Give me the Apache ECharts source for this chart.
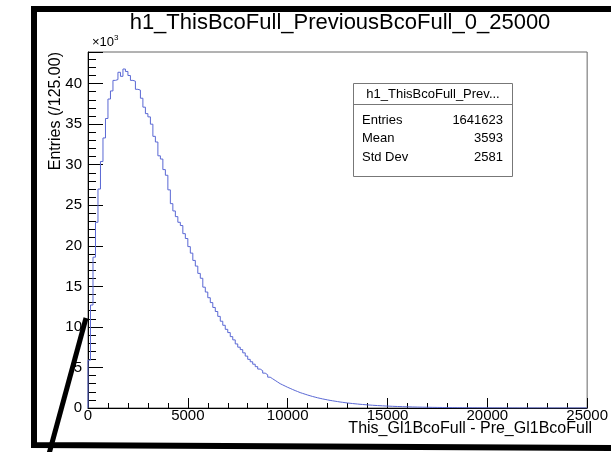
<!DOCTYPE html>
<html>
<head>
<meta charset="utf-8">
<script src="https://cdn.jsdelivr.net/npm/echarts@6/dist/echarts.min.js"></script>
<style>
html,body{margin:0;padding:0;background:#fff;}
#c{width:611px;height:452px;}
</style>
</head>
<body>
<div id="c"></div>
<script>
// ---- data ----
const histTitle = "h1_ThisBcoFull_PreviousBcoFull_0_25000";
const xTitle = "This_Gl1BcoFull - Pre_Gl1BcoFull";
const yTitle = "Entries (/125.00)";
const binWidth = 125;
const xRange = [0, 25000];
const yRange = [0, 43900];
const xTicks = [0, 5000, 10000, 15000, 20000, 25000];
const yTicks = [0, 5, 10, 15, 20, 25, 30, 35, 40];
const statNames = ["Entries", "Mean", "Std Dev"];
const statValues = ["1641623", "3593", "2581"];
const statHeader = "h1_ThisBcoFull_Prev...";
const counts = [
  5900, 12700, 18600, 22900, 27000, 30400, 33300, 35700, 38100, 39100,
  40400, 40500, 41400, 40900, 41800, 41500, 41000, 40400, 40300, 39300,
  39200, 38200, 37100, 36300, 35900, 35000, 33500, 32800, 31100, 30700,
  29400, 28700, 26900, 25200, 24300, 23600, 22900, 22500, 21500, 20900,
  19900, 19100, 18200, 17500, 16600, 16000, 14900, 14300, 13600, 13000,
  12400, 11900, 11300, 10700, 10200, 9700, 9300, 8800, 8400, 7900,
  7500, 7200, 6800, 6400, 6000, 5700, 5400, 5100, 4800, 4600,
  4300, 4100, 3800, 3600, 3400, 3200, 3000, 2850, 2700, 2550,
  2420, 2280, 2150, 2030, 1900, 1800, 1700, 1600, 1510, 1420,
  1340, 1260, 1190, 1120, 1060, 1000, 940, 890, 840, 790,
  740, 700, 660, 620, 585, 550, 520, 490, 460, 435,
  410, 385, 362, 340, 320, 302, 284, 268, 252, 237,
  223, 210, 198, 186, 175, 165, 155, 146, 137, 129,
  121, 114, 107, 101, 95, 89, 84, 79, 74, 70,
  66, 62, 58, 55, 51, 48, 45, 43, 40, 38,
  35, 33, 31, 29, 27, 26, 24, 23, 21, 20,
  19, 18, 17, 16, 15, 14, 13, 12, 11, 11,
  10, 9, 9, 8, 8, 7, 7, 6, 6, 5,
  5, 5, 4, 4, 4, 3, 3, 3, 3, 2,
  2, 2, 2, 2, 1, 1, 1, 1, 1, 1
];

// ---- build ----
const stepData = [[xRange[0], 0]];
counts.forEach((v, i) => stepData.push([xRange[0] + i * binWidth, v]));
stepData.push([xRange[1], counts[counts.length - 1]]);

const FONT = "Liberation Sans";
const G = {left: 88, top: 52, width: 504, height: 356};

const chart = echarts.init(document.getElementById('c'), null, {renderer: 'canvas'});

const statRows = [];
statNames.forEach((n, i) => {
  const yy = 120 + i * 18.5;
  statRows.push({type: 'text', x: 362, y: yy, z: 20,
    style: {text: n, font: '13px "' + FONT + '"', fill: '#000', align: 'left', verticalAlign: 'middle'}});
  statRows.push({type: 'text', x: 503, y: yy, z: 20,
    style: {text: statValues[i], font: '13px "' + FONT + '"', fill: '#000', align: 'right', verticalAlign: 'middle'}});
});

const option = {
  animation: false,
  backgroundColor: '#fff',
  grid: {left: G.left, top: G.top, width: G.width, height: G.height, show: true,
         borderColor: '#666', borderWidth: 1, backgroundColor: 'transparent'},
  xAxis: [{
    type: 'value', min: xRange[0], max: xRange[1], interval: 5000,
    axisLine: {show: true, onZero: false, lineStyle: {color: '#000', width: 1}},
    axisTick: {show: true, inside: true, length: 10, lineStyle: {color: '#000'}},
    minorTick: {show: true, splitNumber: 5, length: 5, lineStyle: {color: '#000'}},
    splitLine: {show: false},
    axisLabel: {show: true, margin: 0, fontFamily: FONT, fontSize: 15, color: '#000',
      formatter: v => xTicks.indexOf(v) >= 0 ? String(v) : ''}
  }],
  yAxis: [{
    type: 'value', min: yRange[0], max: yRange[1], interval: 5000,
    axisLine: {show: true, onZero: false, lineStyle: {color: '#000', width: 1}},
    axisTick: {show: true, inside: true, length: 15, lineStyle: {color: '#000'}},
    splitLine: {show: false},
    axisLabel: {show: true, margin: 6, fontFamily: FONT, fontSize: 15, color: '#000',
      formatter: v => (v % 5000 === 0 && yTicks.indexOf(v / 1000) >= 0) ? String(v / 1000) : ''}
  }, {
    type: 'value', min: yRange[0], max: yRange[1], interval: 1000, position: 'left',
    axisLine: {show: false},
    axisTick: {show: true, inside: true, length: 8, lineStyle: {color: '#000'}},
    splitLine: {show: false},
    axisLabel: {show: false}
  }],
  series: [{
    type: 'line', step: 'end', data: stepData, symbol: 'none', clip: true,
    xAxisIndex: 0, yAxisIndex: 0,
    lineStyle: {color: '#5a68d4', width: 1}
  }],
  graphic: [
    {type: 'text', x: 340, y: 23, z: 20,
      style: {text: histTitle, font: '22px "' + FONT + '"', fill: '#000', align: 'center', verticalAlign: 'middle'}},
    {type: 'text', x: 92, y: 42, z: 20,
      style: {text: '×10{s|3}', font: '13px "' + FONT + '"', fill: '#000', align: 'left', verticalAlign: 'middle',
        rich: {s: {fontSize: 8, fontFamily: FONT, verticalAlign: 'top', padding: [0, 0, 8, 0]}}}},
    {type: 'text', x: 56, y: 52, rotation: Math.PI / 2, z: 20,
      style: {text: yTitle, font: '16px "' + FONT + '"', fill: '#000', align: 'right', verticalAlign: 'middle'}},
    {type: 'text', x: 592, y: 429, z: 20,
      style: {text: xTitle, font: '16px "' + FONT + '"', fill: '#000', align: 'right', verticalAlign: 'middle'}},
    {type: 'rect', shape: {x: 353.5, y: 83.5, width: 159, height: 93}, z: 15,
      style: {fill: '#fff', stroke: '#777', lineWidth: 1}},
    {type: 'line', shape: {x1: 353.5, y1: 104.5, x2: 512.5, y2: 104.5}, z: 16,
      style: {stroke: '#777', lineWidth: 1}},
    {type: 'text', x: 433, y: 94, z: 20,
      style: {text: statHeader, font: '13px "' + FONT + '"', fill: '#000', align: 'center', verticalAlign: 'middle'}},
    ...statRows,
    {type: 'polyline', shape: {points: [[611, 9], [34, 9], [34, 445], [611, 448]]}, z: 30,
      style: {stroke: '#000', lineWidth: 6, fill: null, lineJoin: 'miter'}},
    {type: 'line', shape: {x1: 49, y1: 454, x2: 86, y2: 318}, z: 30,
      style: {stroke: '#000', lineWidth: 5}}
  ]
};
chart.setOption(option);
</script>
</body>
</html>
